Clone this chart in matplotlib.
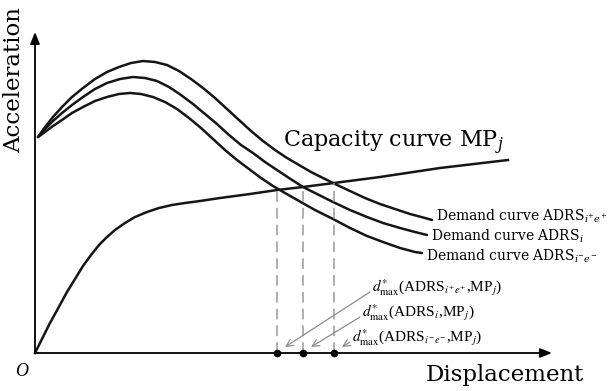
import numpy as np
import matplotlib.pyplot as plt

dem_sup_x = [3, 10, 18, 27, 37, 48, 60, 72, 84, 96, 108, 120, 132, 144, 156, 168, 180, 192, 204,
             216, 228, 240, 252, 264, 276, 288, 300, 315, 330, 345, 360, 375, 390, 397]
dem_sup_y = [216, 226, 236, 246, 256, 265, 274, 281, 286, 290, 292, 291, 288, 282, 274, 265, 255, 244, 233,
             222, 212, 203, 195, 188, 181, 175, 169, 162, 155, 149, 144, 139, 135, 133]

dem_med_x = [3, 10, 18, 27, 37, 48, 60, 72, 85, 98, 110, 122, 134, 146, 158, 170, 182, 194, 206,
             218, 230, 242, 254, 268, 282, 298, 315, 332, 348, 365, 380, 392]
dem_med_y = [216, 224, 232, 240, 248, 256, 264, 270, 274, 276, 275, 272, 266, 258, 249, 239, 229, 218, 208,
             200, 191, 183, 175, 166, 159, 151, 143, 136, 130, 125, 121, 118]

dem_inf_x = [3, 10, 18, 27, 37, 48, 60, 72, 84, 95, 106, 118, 130, 142, 154, 166, 178, 190, 202,
             214, 226, 238, 250, 264, 280, 298, 315, 332, 348, 365, 380, 387]
dem_inf_y = [216, 221, 227, 233, 240, 246, 252, 256, 259, 260, 259, 256, 251, 244, 235, 225, 214, 203, 193,
             184, 175, 167, 160, 152, 143, 134, 125, 117, 111, 105, 101, 100]

## Curva de capacidad MPj
cap_x = [0, 5, 10, 15, 20, 26, 32, 40, 48, 56, 64, 72, 80, 90, 100, 112, 124, 137, 150,
         165, 185, 215, 242, 268, 299, 345, 405, 473]
cap_y = [0, 10, 20, 30, 39, 50, 61, 74, 87, 98, 108, 116, 123, 130, 136, 141, 145, 148, 150,
         152, 155, 159, 163, 166, 170, 176, 185, 193]

## Desplazamientos maximos (interseccion capacidad - demanda)
d_max = [242, 268, 299]
a_max = [164, 167, 170]

etiquetas_demanda = [r'Demand curve ADRS$_{i^{+}e^{+}}$',
                     r'Demand curve ADRS$_{i}$',
                     r'Demand curve ADRS$_{i^{-}e^{-}}$']
etiquetas_d = [r'$d^{*}_{\mathrm{max}}$(ADRS$_{i^{+}e^{+}}$,MP$_{j}$)',
               r'$d^{*}_{\mathrm{max}}$(ADRS$_{i}$,MP$_{j}$)',
               r'$d^{*}_{\mathrm{max}}$(ADRS$_{i^{-}e^{-}}$,MP$_{j}$)']

fig = plt.figure(figsize=(6.14, 3.91), dpi=100)
ax = fig.add_axes([0, 0, 1, 1])
ax.set_xlim(-35, 579)
ax.set_ylim(-38, 353)
ax.axis('off')

## Ejes con flechas
flecha = dict(arrowstyle='-|>,head_length=0.5,head_width=0.2', color='black', lw=1.3,
              mutation_scale=14, shrinkA=0, shrinkB=0)
ax.annotate('', xy=(517, 0), xytext=(0, 0), arrowprops=flecha)
ax.annotate('', xy=(0, 321), xytext=(0, 0), arrowprops=flecha)

## Curvas
for xs, ys in [(dem_sup_x, dem_sup_y), (dem_med_x, dem_med_y), (dem_inf_x, dem_inf_y)]:
    ax.plot(xs, ys, color='#151515', lw=1.8, solid_capstyle='round', solid_joinstyle='round')
ax.plot(cap_x, cap_y, color='#151515', lw=1.8, solid_joinstyle='round')

## Lineas discontinuas y puntos
for d, a in zip(d_max, a_max):
    ax.plot([d, d], [0, a], color='#9a9a9a', lw=1.1, dashes=(7, 4))
ax.plot(d_max, [0] * len(d_max), 'o', color='black', markersize=4.5, zorder=5)

## Textos
serif = 'DejaVu Serif'
ax.text(-21, 273, 'Acceleration', rotation=90, ha='center', va='center',
        fontsize=16.5, family=serif)
ax.text(470, -22, 'Displacement', ha='center', va='center', fontsize=16.5, family=serif)
ax.text(-13, -19, 'O', ha='center', va='center', fontsize=13, style='italic',
        family='Liberation Serif')
ax.text(248, 210, r'Capacity curve MP$_{j}$', ha='left', va='center', fontsize=16,
        family=serif, math_fontfamily='dejavuserif')

## Etiquetas de las curvas de demanda, a la derecha del final de cada curva
fin_x = [dem_sup_x[-1], dem_med_x[-1], dem_inf_x[-1]]
fin_y = [dem_sup_y[-1], dem_med_y[-1], dem_inf_y[-1]]
desp_y = [4, -1, -3]
for x, y, dy, txt in zip(fin_x, fin_y, desp_y, etiquetas_demanda):
    ax.text(x + 4, y + dy, txt, ha='left', va='center', fontsize=10, family=serif,
            math_fontfamily='dejavuserif')

## Etiquetas de desplazamiento maximo con flechas grises
pos_txt = [(337, 65), (327, 40), (317, 15)]
for (tx, ty), d, txt in zip(pos_txt, d_max, etiquetas_d):
    ax.text(tx, ty, txt, ha='left', va='center', fontsize=11, family='Liberation Serif',
            math_fontfamily='stix')
    ax.annotate('', xy=(d + 8, 6), xytext=(tx - 2, ty - 4),
                arrowprops=dict(arrowstyle='->,head_length=0.5,head_width=0.25',
                                color='#8c8c8c', lw=0.9, mutation_scale=10,
                                shrinkA=0, shrinkB=0))

fig.savefig('out.png', dpi=100)
